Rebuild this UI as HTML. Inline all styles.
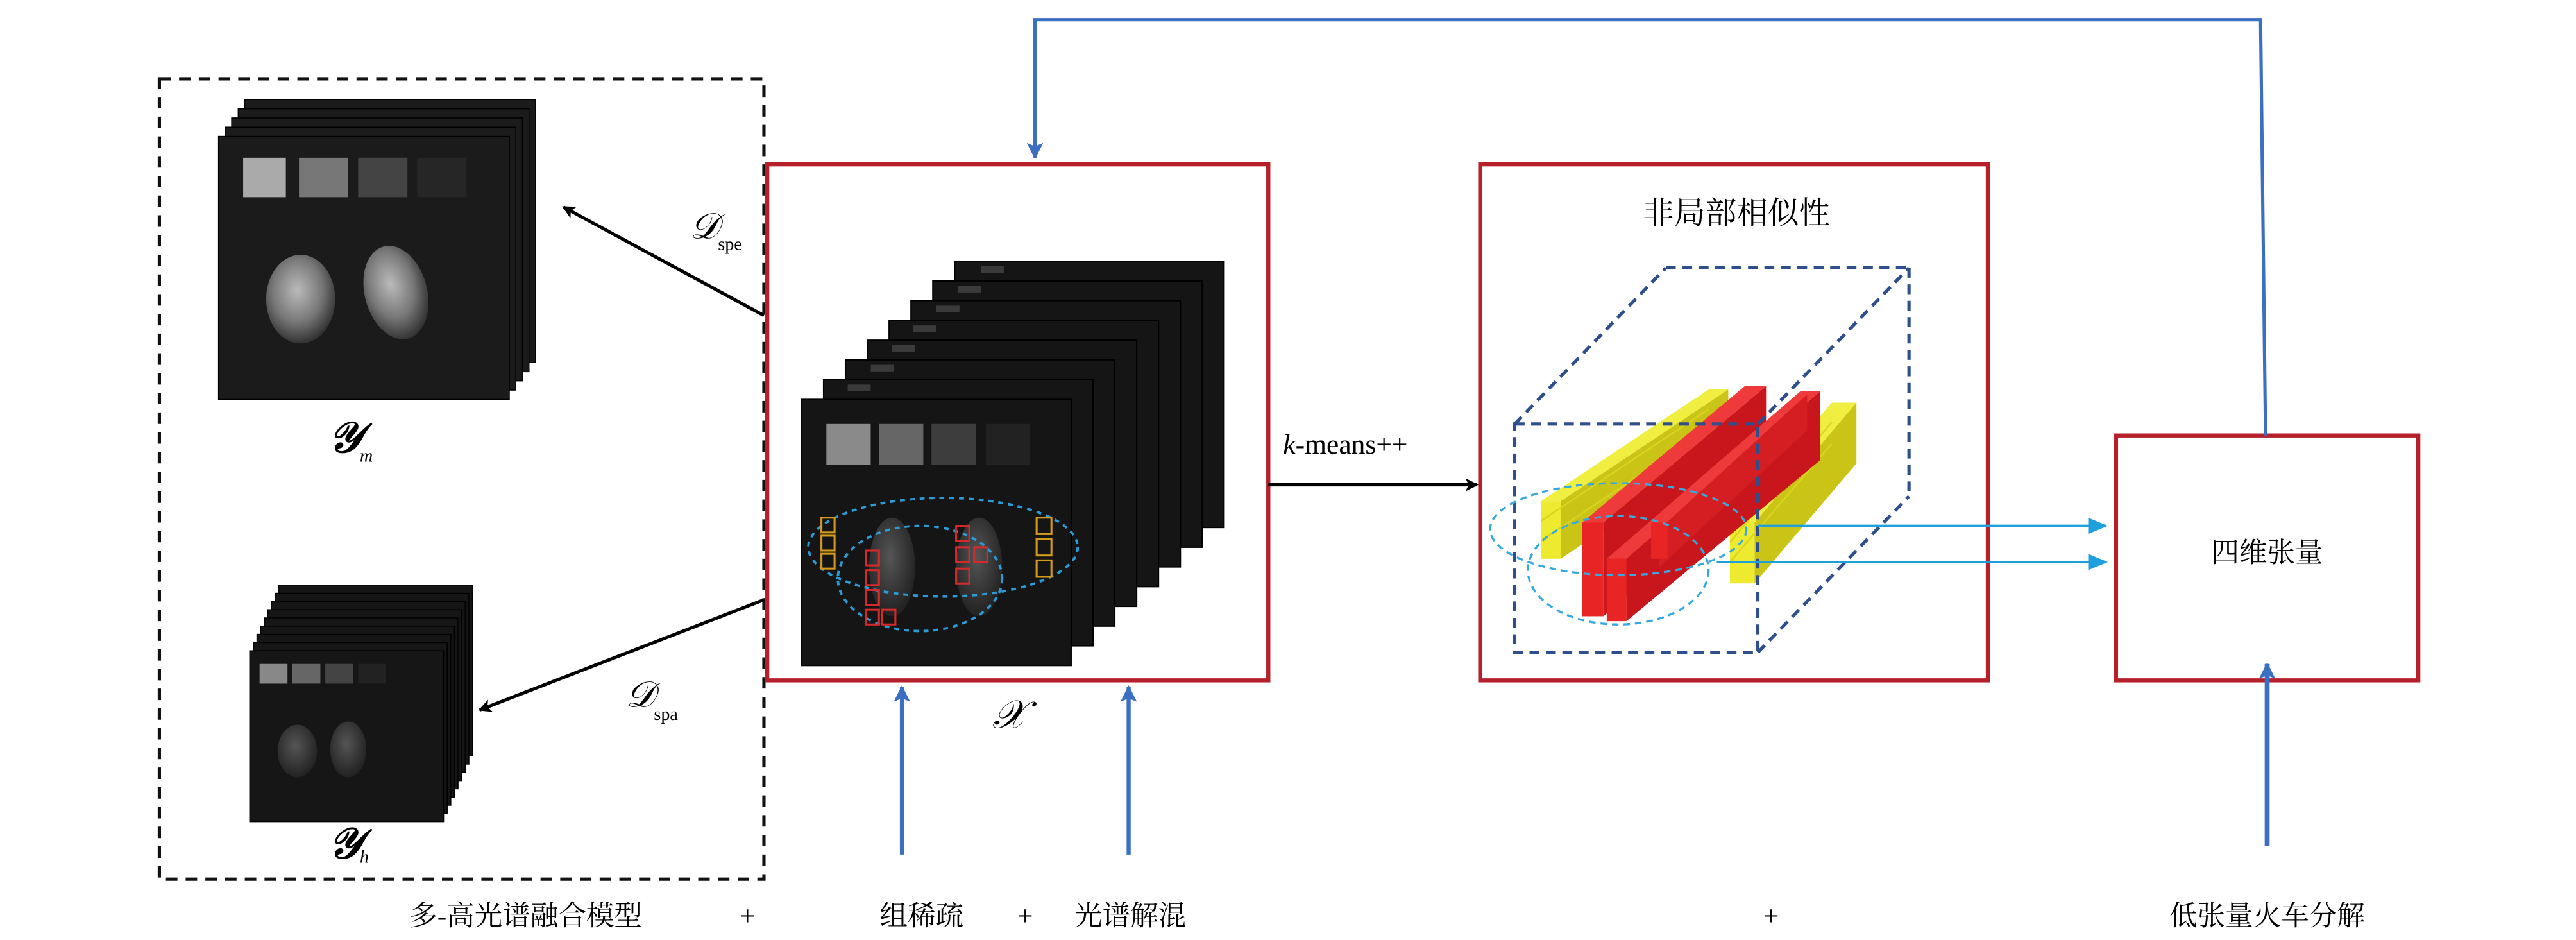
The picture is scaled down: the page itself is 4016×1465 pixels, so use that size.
<!DOCTYPE html>
<html><head><meta charset="utf-8"><style>
html,body{margin:0;padding:0;background:#fff;}
svg{display:block;}
text{font-family:"Liberation Serif","Noto Serif CJK SC",serif;}
</style></head><body>
<svg width="4016" height="1465" viewBox="0 0 1568 572" preserveAspectRatio="none" xmlns="http://www.w3.org/2000/svg">
<defs>
<marker id="ak" markerWidth="8" markerHeight="8" refX="7" refY="4" orient="auto" markerUnits="userSpaceOnUse"><path d="M0,0 L8,4 L0,8 L2,4z" fill="#000"/></marker>
<marker id="ab" markerWidth="10" markerHeight="10" refX="9" refY="5" orient="auto" markerUnits="userSpaceOnUse"><path d="M0,0 L10,5 L0,10 L2,5z" fill="#3b6fc2"/></marker>
<marker id="ac" markerWidth="12" markerHeight="10" refX="11" refY="5" orient="auto" markerUnits="userSpaceOnUse"><path d="M0,0 L12,5 L0,10z" fill="#1fa0dc"/></marker>
<radialGradient id="lem" cx="0.45" cy="0.4" r="0.6"><stop offset="0" stop-color="#bbb"/><stop offset="0.6" stop-color="#777"/><stop offset="1" stop-color="#333"/></radialGradient>
<radialGradient id="lem2" cx="0.45" cy="0.4" r="0.6"><stop offset="0" stop-color="#555"/><stop offset="1" stop-color="#222"/></radialGradient>
</defs>
<rect width="1568" height="572" fill="#fff"/>

<!-- left dashed box -->
<rect x="97" y="48" width="368" height="487" fill="none" stroke="#111" stroke-width="2" stroke-dasharray="7,5"/>

<!-- Y_m stack -->
<g stroke="#000" stroke-width="0.6" fill="#1b1b1b">
<rect x="149" y="60.6" width="177" height="160"/>
<rect x="145" y="66.2" width="177" height="160"/>
<rect x="141" y="71.8" width="177" height="160"/>
<rect x="137" y="77.4" width="177" height="160"/>
<rect x="133" y="83" width="177" height="160"/>
</g>
<rect x="148" y="96" width="26" height="24" fill="#aaa"/>
<rect x="182" y="96" width="30" height="24" fill="#777"/>
<rect x="218" y="96" width="30" height="24" fill="#444"/>
<rect x="254" y="96" width="30" height="24" fill="#262626"/>
<ellipse cx="183" cy="182" rx="21" ry="27" fill="url(#lem)"/>
<ellipse cx="241" cy="178" rx="19" ry="29" fill="url(#lem)" transform="rotate(-15 241 178)"/>

<!-- Y_h stack -->
<g stroke="#000" stroke-width="0.6" fill="#161616">
<rect x="169.6" y="356" width="118" height="104"/>
<rect x="167.4" y="361" width="118" height="104"/>
<rect x="165.2" y="366" width="118" height="104"/>
<rect x="163" y="371" width="118" height="104"/>
<rect x="160.8" y="376" width="118" height="104"/>
<rect x="158.6" y="381" width="118" height="104"/>
<rect x="156.4" y="386" width="118" height="104"/>
<rect x="154.2" y="391" width="118" height="104"/>
<rect x="152" y="396" width="118" height="104"/>
</g>
<rect x="158" y="404" width="17" height="12" fill="#888"/>
<rect x="178" y="404" width="17" height="12" fill="#666"/>
<rect x="198" y="404" width="17" height="12" fill="#444"/>
<rect x="218" y="404" width="17" height="12" fill="#222"/>
<ellipse cx="181" cy="457" rx="12" ry="16" fill="url(#lem2)"/>
<ellipse cx="212" cy="456" rx="11" ry="17" fill="url(#lem2)"/>

<!-- labels Y -->
<text x="200" y="275" font-size="26" font-style="italic" font-weight="bold" font-family="Liberation Serif,serif">𝒴</text>
<text x="219" y="281" font-size="11" font-style="italic">m</text>
<text x="200" y="522" font-size="26" font-style="italic" font-weight="bold">𝒴</text>
<text x="219" y="525" font-size="11" font-style="italic">h</text>

<!-- arrows D -->
<line x1="465" y1="192" x2="343" y2="126" stroke="#000" stroke-width="2" marker-end="url(#ak)"/>
<line x1="465" y1="365" x2="292" y2="432" stroke="#000" stroke-width="2" marker-end="url(#ak)"/>
<text x="420" y="145" font-size="22" font-style="italic">𝒟</text>
<text x="437" y="152" font-size="11">spe</text>
<text x="381" y="430" font-size="22" font-style="italic">𝒟</text>
<text x="398" y="438" font-size="11">spa</text>

<!-- red box X -->
<rect x="467" y="100" width="305" height="314" fill="none" stroke="#b5202a" stroke-width="2.5"/>
<g stroke="#000" stroke-width="0.8" fill="#151515">
<rect x="581.1" y="159" width="164" height="162"/>
<rect x="567.8" y="171" width="164" height="162"/>
<rect x="554.5" y="183" width="164" height="162"/>
<rect x="541.2" y="195" width="164" height="162"/>
<rect x="527.9" y="207" width="164" height="162"/>
<rect x="514.6" y="219" width="164" height="162"/>
<rect x="501.3" y="231" width="164" height="162"/>
<rect x="488" y="243" width="164" height="162"/>
</g>
<g fill="#3a3a3a"><rect x="597" y="162" width="14" height="4"/><rect x="583" y="174" width="14" height="4"/><rect x="570" y="186" width="14" height="4"/><rect x="556" y="198" width="14" height="4"/><rect x="543" y="210" width="14" height="4"/><rect x="530" y="222" width="14" height="4"/><rect x="516" y="234" width="14" height="4"/></g>
<rect x="503" y="258" width="27" height="25" fill="#8a8a8a"/>
<rect x="535" y="258" width="27" height="25" fill="#666"/>
<rect x="567" y="258" width="27" height="25" fill="#3d3d3d"/>
<rect x="600" y="258" width="27" height="25" fill="#222"/>
<ellipse cx="543" cy="345" rx="14" ry="30" fill="url(#lem2)"/>
<ellipse cx="596" cy="345" rx="14" ry="30" fill="url(#lem2)"/>
<g fill="none" stroke="#2a9bd6" stroke-width="1.5" stroke-dasharray="3,3">
<ellipse cx="574" cy="333" rx="82" ry="30"/>
<ellipse cx="560" cy="352" rx="50" ry="32"/>
</g>
<g fill="none" stroke="#d62a2a" stroke-width="1.2">
<rect x="527" y="335" width="8" height="9"/><rect x="527" y="347" width="8" height="9"/><rect x="527" y="359" width="8" height="9"/><rect x="527" y="371" width="8" height="9"/><rect x="537" y="371" width="8" height="9"/>
<rect x="582" y="320" width="8" height="9"/><rect x="582" y="333" width="8" height="9"/><rect x="593" y="333" width="8" height="9"/><rect x="582" y="346" width="8" height="9"/>
</g>
<g fill="none" stroke="#d49a1a" stroke-width="1.2">
<rect x="500" y="315" width="8" height="9"/><rect x="500" y="326" width="8" height="9"/><rect x="500" y="337" width="8" height="9"/>
<rect x="631" y="315" width="9" height="10"/><rect x="631" y="328" width="9" height="10"/><rect x="631" y="341" width="9" height="10"/>
</g>
<text x="604" y="443" font-size="24" font-style="italic">𝒳</text>

<!-- k-means -->
<text x="781" y="276" font-size="17"><tspan font-style="italic">k</tspan>-means++</text>
<line x1="772" y1="295" x2="899" y2="295" stroke="#000" stroke-width="2" marker-end="url(#ak)"/>

<!-- box 2 -->
<rect x="901" y="100" width="309" height="314" fill="none" stroke="#b5202a" stroke-width="2.5"/>
<text x="1057" y="136" font-size="19" text-anchor="middle">非局部相似性</text>

<!-- yellow bars -->
<polygon points="950,305 1052,237 1052,272 950,340" fill="#c9c416"/>
<polygon points="938,305 950,305 1052,237 1040,237" fill="#f0ee40"/>
<rect x="938" y="305" width="12" height="35" fill="#eeea30"/>
<g stroke="#d8d420" stroke-width="1"><line x1="938" y1="317" x2="1040" y2="249"/><line x1="938" y1="329" x2="1040" y2="261"/></g>
<polygon points="1068,318 1130,245 1130,282 1068,355" fill="#c9c416"/>
<polygon points="1053,318 1068,318 1130,245 1115,245" fill="#f0ee40"/>
<rect x="1053" y="318" width="15" height="37" fill="#eeea30"/>
<g stroke="#d8d420" stroke-width="1"><line x1="1053" y1="330" x2="1115" y2="257"/><line x1="1053" y1="342" x2="1115" y2="270"/></g>
<!-- red bars -->
<polygon points="976,318 1075,235 1075,290 976,375" fill="#c8161c"/>
<polygon points="963,318 976,318 1075,235 1062,235" fill="#ee3a3a"/>
<rect x="963" y="318" width="13" height="57" fill="#e82424"/>
<polygon points="990,340 1108,238 1108,280 990,378" fill="#c8161c"/>
<polygon points="978,340 990,340 1108,238 1096,238" fill="#ee3a3a"/>
<rect x="978" y="340" width="12" height="38" fill="#e82424"/>
<polygon points="1010,322 1100,240 1100,262 1010,345" fill="#d41e22"/>
<rect x="1005" y="318" width="10" height="22" fill="#e82424"/>

<!-- dashed cube -->
<g fill="none" stroke="#2e4e8e" stroke-width="2" stroke-dasharray="6,4">
<rect x="922" y="258" width="148" height="139"/>
<line x1="922" y1="258" x2="1014" y2="163"/>
<line x1="1014" y1="163" x2="1162" y2="163"/>
<line x1="1162" y1="163" x2="1162" y2="302"/>
<line x1="1070" y1="258" x2="1162" y2="163"/>
<line x1="1070" y1="397" x2="1162" y2="302"/>
</g>
<g fill="none" stroke="#35a9e0" stroke-width="1.3" stroke-dasharray="4,3">
<ellipse cx="985" cy="322" rx="78" ry="28"/>
<ellipse cx="985" cy="347" rx="55" ry="33"/>
</g>
<line x1="1070" y1="320" x2="1282" y2="320" stroke="#1fa0dc" stroke-width="1.5" marker-end="url(#ac)"/>
<line x1="1045" y1="342" x2="1282" y2="342" stroke="#1fa0dc" stroke-width="1.5" marker-end="url(#ac)"/>

<!-- box 3 -->
<rect x="1288" y="265" width="184" height="149" fill="none" stroke="#b5202a" stroke-width="2.5"/>
<text x="1380" y="342" font-size="17" text-anchor="middle">四维张量</text>

<!-- feedback line -->
<polyline points="1379,265 1376,12 630,12 630,96" fill="none" stroke="#3b6fc2" stroke-width="2" marker-end="url(#ab)"/>

<!-- blue up arrows -->
<line x1="549" y1="520" x2="549" y2="418" stroke="#3b6fc2" stroke-width="2.5" marker-end="url(#ab)"/>
<line x1="687" y1="520" x2="687" y2="418" stroke="#3b6fc2" stroke-width="2.5" marker-end="url(#ab)"/>
<line x1="1380" y1="515" x2="1380" y2="404" stroke="#3b6fc2" stroke-width="3" marker-end="url(#ab)"/>

<!-- bottom labels -->
<g font-size="17">
<text x="320" y="563" text-anchor="middle">多-高光谱融合模型</text>
<text x="455" y="563" text-anchor="middle">+</text>
<text x="561" y="563" text-anchor="middle">组稀疏</text>
<text x="624" y="563" text-anchor="middle">+</text>
<text x="688" y="563" text-anchor="middle">光谱解混</text>
<text x="1078" y="563" text-anchor="middle">+</text>
<text x="1380" y="563" text-anchor="middle">低张量火车分解</text>
</g>
</svg>
</body></html>
